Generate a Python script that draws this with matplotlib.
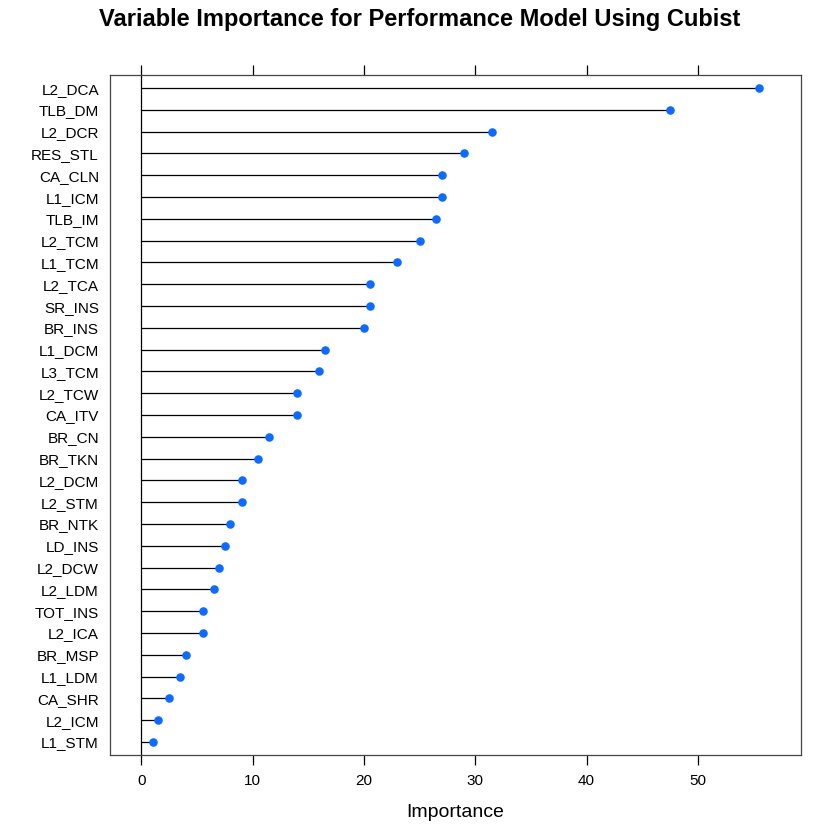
import matplotlib
matplotlib.use("Agg")
import matplotlib.pyplot as plt

plt.rcParams['font.family'] = ['Liberation Sans', 'DejaVu Sans']

# variables, top to bottom as shown
variables = ["L2_DCA", "TLB_DM", "L2_DCR", "RES_STL", "CA_CLN", "L1_ICM",
             "TLB_IM", "L2_TCM", "L1_TCM", "L2_TCA", "SR_INS", "BR_INS",
             "L1_DCM", "L3_TCM", "L2_TCW", "CA_ITV", "BR_CN", "BR_TKN",
             "L2_DCM", "L2_STM", "BR_NTK", "LD_INS", "L2_DCW", "L2_LDM",
             "TOT_INS", "L2_ICA", "BR_MSP", "L1_LDM", "CA_SHR", "L2_ICM",
             "L1_STM"]
importance = [55.5, 47.5, 31.5, 29.0, 27.0, 27.0,
              26.5, 25.0, 23.0, 20.5, 20.5, 20.0,
              16.5, 16.0, 14.0, 14.0, 11.5, 10.5,
              9.0, 9.0, 8.0, 7.5, 7.0, 6.5,
              5.5, 5.5, 4.0, 3.5, 2.5, 1.5,
              1.0]
xticks = [0, 10, 20, 30, 40, 50]

n = len(variables)
ypos = [n - i for i in range(n)]

fig = plt.figure(figsize=(8.4, 8.4), dpi=100)
ax = fig.add_axes([0.131, 0.1012, 0.8226, 0.8095])

ax.axvline(0, color="black", lw=0.9, zorder=1)
ax.hlines(ypos, 0, importance, color="black", lw=0.9, zorder=2)
ax.scatter(importance, ypos, s=38, color="#0f6bff", zorder=3, linewidths=0)

ax.set_xlim(-2.82, 59.27)
ax.set_ylim(0.4, n + 0.6)
ax.set_yticks(ypos)
ax.set_yticklabels(variables, fontsize=11)
ax.set_xticks(xticks)
ax.set_xticklabels([str(t) for t in xticks], fontsize=11)

ax.tick_params(axis="x", direction="out", length=7.5, width=0.9,
               top=True, labeltop=False, pad=6, color="black")
ax.tick_params(axis="y", length=0, pad=8)
for sp in ax.spines.values():
    sp.set_color("#444444")
    sp.set_linewidth(0.9)

ax.set_xlabel("Importance", fontsize=14, labelpad=12)
fig.text(0.5, 1 - 26 / 840, "Variable Importance for Performance Model Using Cubist",
         ha="center", va="baseline", fontsize=17, fontweight="bold")

fig.savefig("out.png", dpi=100)
